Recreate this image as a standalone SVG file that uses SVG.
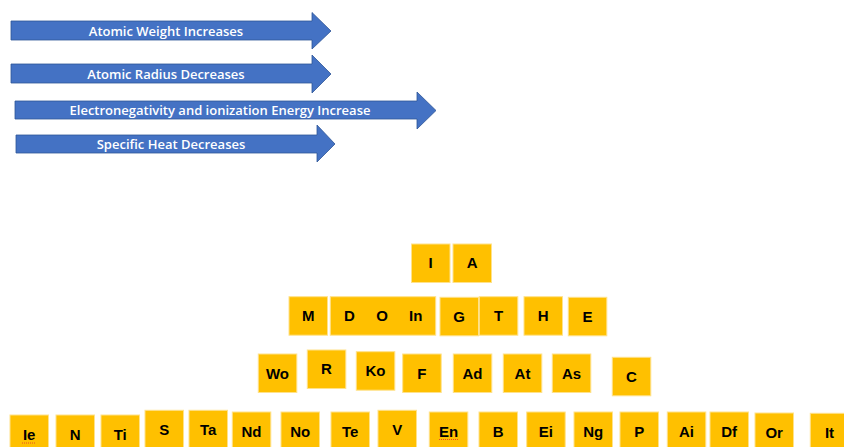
<svg xmlns="http://www.w3.org/2000/svg" width="844" height="447" viewBox="0 0 844 447">
<style>
.arrow{fill:#4472C4;stroke:#2F5597;stroke-width:0.8}
.alabel{font-family:"Open Sans","Liberation Sans",sans-serif;font-weight:600;font-size:13px;fill:#fff;text-anchor:middle}
.box{fill:#FFC000;stroke:#FFE28A;stroke-width:1}
.lbl{font-family:"Liberation Sans",Arial,sans-serif;font-weight:bold;font-size:15px;fill:#000;text-anchor:middle}
.sq{fill:none;stroke:#E03030;stroke-width:0.8;stroke-dasharray:1 1}
</style>
<rect width="844" height="447" fill="#fff"/>
<g id="arrows">
<g id="arrow-weight"><polygon class="arrow" points="11,21 312,21 312,12.5 331,31 312,49 312,40 11,40"/><text class="alabel" x="166" y="35.5">Atomic Weight Increases</text></g>
<g id="arrow-radius"><polygon class="arrow" points="11,64 312,64 312,55 331,74 312,93 312,83 11,83"/><text class="alabel" x="166" y="78.5">Atomic Radius Decreases</text></g>
<g id="arrow-en"><polygon class="arrow" points="15,101 417,101 417,92 436,110.5 417,129 417,119 15,119"/><text class="alabel" x="220" y="115">Electronegativity and ionization Energy Increase</text></g>
<g id="arrow-heat"><polygon class="arrow" points="16,135 317,135 317,125 335,144 317,162 317,153 16,153"/><text class="alabel" x="171" y="148.5">Specific Heat Decreases</text></g>
</g>
<g id="row1">
<g id="n-I"><rect class="box" x="411.5" y="244" width="38.5" height="38.5"/><text class="lbl" x="430.7" y="268">I</text></g>
<g id="n-A"><rect class="box" x="453" y="244" width="38.5" height="38.5"/><text class="lbl" x="472.2" y="268">A</text></g>
</g>
<g id="row2">
<g id="n-M"><rect class="box" x="289" y="296.7" width="38.5" height="38.5"/><text class="lbl" x="308.2" y="321">M</text></g>
<g id="n-DOIn"><rect class="box" x="330.3" y="296.7" width="105.4" height="38.5"/><text class="lbl" x="349.5" y="321">D</text><text class="lbl" x="382" y="321">O</text><text class="lbl" x="415.7" y="321">In</text></g>
<g id="n-G"><rect class="box" x="440" y="297.3" width="38.5" height="38.5"/><text class="lbl" x="459.2" y="321.5">G</text></g>
<g id="n-T"><rect class="box" x="479.3" y="296.7" width="38.5" height="38.5"/><text class="lbl" x="498.5" y="321">T</text></g>
<g id="n-H"><rect class="box" x="524" y="296.7" width="38.5" height="38.5"/><text class="lbl" x="543.2" y="321">H</text></g>
<g id="n-E"><rect class="box" x="568.3" y="297.3" width="38.5" height="38.5"/><text class="lbl" x="587.5" y="321.5">E</text></g>
</g>
<g id="row3">
<g id="n-Wo"><rect class="box" x="258.3" y="354" width="38.5" height="38.5"/><text class="lbl" x="277.5" y="378.5">Wo</text></g>
<g id="n-R"><rect class="box" x="307.3" y="350" width="38.5" height="38.5"/><text class="lbl" x="326.5" y="374">R</text></g>
<g id="n-Ko"><rect class="box" x="356.3" y="351.7" width="38.5" height="38.5"/><text class="lbl" x="375.5" y="375.5">Ko</text></g>
<g id="n-F"><rect class="box" x="402.7" y="354" width="38.5" height="38.5"/><text class="lbl" x="421.9" y="378.5">F</text></g>
<g id="n-Ad"><rect class="box" x="453.3" y="354" width="38.5" height="38.5"/><text class="lbl" x="472.5" y="378.5">Ad</text></g>
<g id="n-At"><rect class="box" x="503.3" y="354" width="38.5" height="38.5"/><text class="lbl" x="522.5" y="378.5">At</text></g>
<g id="n-As"><rect class="box" x="552.3" y="354" width="38.5" height="38.5"/><text class="lbl" x="571.5" y="378.5">As</text></g>
<g id="n-C"><rect class="box" x="612.3" y="357.3" width="38.5" height="38.5"/><text class="lbl" x="631.5" y="382">C</text></g>
</g>
<g id="row4">
<g id="n-Ie"><rect class="box" x="10" y="415" width="38.5" height="38.5"/><text class="lbl" x="29.2" y="440">Ie</text><path class="sq" d="M22,443 L36,443"/></g>
<g id="n-N"><rect class="box" x="56" y="415" width="38.5" height="38.5"/><text class="lbl" x="75.2" y="439.5">N</text></g>
<g id="n-Ti"><rect class="box" x="101" y="415" width="38.5" height="38.5"/><text class="lbl" x="120.2" y="439.5">Ti</text></g>
<g id="n-S"><rect class="box" x="145" y="410.3" width="38.5" height="38.5"/><text class="lbl" x="164.2" y="435.3">S</text></g>
<g id="n-Ta"><rect class="box" x="189" y="410.3" width="38.5" height="38.5"/><text class="lbl" x="208.2" y="435.3">Ta</text></g>
<g id="n-Nd"><rect class="box" x="232.3" y="412" width="38.5" height="38.5"/><text class="lbl" x="251.5" y="436.5">Nd</text></g>
<g id="n-No"><rect class="box" x="281" y="412" width="38.5" height="38.5"/><text class="lbl" x="300.2" y="436.5">No</text></g>
<g id="n-Te"><rect class="box" x="331" y="412" width="38.5" height="38.5"/><text class="lbl" x="350.2" y="436.5">Te</text></g>
<g id="n-V"><rect class="box" x="378" y="410.3" width="38.5" height="38.5"/><text class="lbl" x="397.2" y="435.3">V</text></g>
<g id="n-En"><rect class="box" x="429.3" y="412" width="38.5" height="38.5"/><text class="lbl" x="448.5" y="436.5">En</text><path class="sq" d="M439,439.5 L458,439.5"/></g>
<g id="n-B"><rect class="box" x="479" y="412" width="38.5" height="38.5"/><text class="lbl" x="498.2" y="436.5">B</text></g>
<g id="n-Ei"><rect class="box" x="526.7" y="412" width="38.5" height="38.5"/><text class="lbl" x="545.9" y="436.5">Ei</text></g>
<g id="n-Ng"><rect class="box" x="574" y="412" width="38.5" height="38.5"/><text class="lbl" x="593.2" y="436.5">Ng</text></g>
<g id="n-P"><rect class="box" x="620" y="412" width="38.5" height="38.5"/><text class="lbl" x="639.2" y="436.5">P</text></g>
<g id="n-Ai"><rect class="box" x="667.3" y="412" width="38.5" height="38.5"/><text class="lbl" x="686.5" y="436.5">Ai</text></g>
<g id="n-Df"><rect class="box" x="710" y="412" width="38.5" height="38.5"/><text class="lbl" x="729.2" y="436.5">Df</text></g>
<g id="n-Or"><rect class="box" x="755" y="413" width="38.5" height="38.5"/><text class="lbl" x="774.2" y="437.5">Or</text></g>
<g id="n-It"><rect class="box" x="810.3" y="413.3" width="38.5" height="38.5"/><text class="lbl" x="829.5" y="437.8">It</text></g>
</g>
</svg>
